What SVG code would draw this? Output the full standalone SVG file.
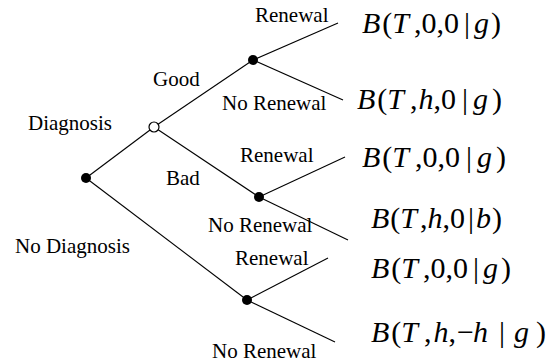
<svg xmlns="http://www.w3.org/2000/svg" width="553" height="363" viewBox="0 0 553 363">
<style>
.lbl{font-family:"Liberation Serif","Times New Roman",serif;font-size:21px;fill:#000}
.f{font-family:"Liberation Serif","Times New Roman",serif;font-size:30px;fill:#000}
.i{font-style:italic}
.e{stroke:#000;stroke-width:1.1;fill:none}
.n{fill:#000}
.o{fill:#fff;stroke:#000;stroke-width:1.2}
</style>
<rect width="553" height="363" fill="#fff"/>
<g id="connectors">
<line class="e" x1="86" y1="178" x2="154" y2="127"/>
<line class="e" x1="86" y1="178" x2="247" y2="300"/>
<line class="e" x1="154" y1="127" x2="253" y2="60"/>
<line class="e" x1="154" y1="127" x2="259" y2="197"/>
<line class="e" x1="253" y1="60" x2="338" y2="23"/>
<line class="e" x1="253" y1="60" x2="343" y2="100"/>
<line class="e" x1="259" y1="197" x2="345" y2="157"/>
<line class="e" x1="259" y1="197" x2="348" y2="240"/>
<line class="e" x1="247" y1="300" x2="328" y2="258"/>
<line class="e" x1="247" y1="300" x2="335" y2="342"/>
</g>
<g id="root"><circle class="n" cx="86" cy="178" r="5"/></g>
<g id="diagnosis"><circle class="o" cx="154" cy="127" r="5"/></g>
<g id="good"><circle class="n" cx="253" cy="60" r="5"/></g>
<g id="bad"><circle class="n" cx="259" cy="197" r="5"/></g>
<g id="nodiag"><circle class="n" cx="247" cy="300" r="5"/></g>
<g id="labels">
<text class="lbl" x="255" y="22">Renewal</text>
<text class="lbl" x="153" y="86">Good</text>
<text class="lbl" x="222" y="110">No Renewal</text>
<text class="lbl" x="28" y="130">Diagnosis</text>
<text class="lbl" x="240" y="162">Renewal</text>
<text class="lbl" x="166" y="185">Bad</text>
<text class="lbl" x="208" y="232">No Renewal</text>
<text class="lbl" x="235" y="265">Renewal</text>
<text class="lbl" x="15" y="253">No Diagnosis</text>
<text class="lbl" x="212" y="358">No Renewal</text>
</g>
<g id="outcomes">
<text class="f" x="362" y="33" font-size="29"><tspan class="i">B</tspan><tspan dx="2">(</tspan><tspan class="i">T</tspan><tspan dx="5">,0,0</tspan><tspan dx="5">|</tspan><tspan class="i" dx="4">g</tspan><tspan dx="2">)</tspan></text>
<text class="f" x="357" y="109" font-size="31"><tspan class="i">B</tspan><tspan dx="2">(</tspan><tspan class="i">T</tspan><tspan dx="6">,</tspan><tspan class="i" dx="1">h</tspan><tspan>,0</tspan><tspan dx="6">|</tspan><tspan class="i" dx="5">g</tspan><tspan dx="4">)</tspan></text>
<text class="f" x="362" y="167"><tspan class="i">B</tspan><tspan dx="2">(</tspan><tspan class="i">T</tspan><tspan dx="6">,0,0</tspan><tspan dx="6">|</tspan><tspan class="i" dx="5">g</tspan><tspan dx="4">)</tspan></text>
<text class="f" x="371" y="228" font-size="27"><tspan class="i">B</tspan><tspan dx="1">(</tspan><tspan class="i">T</tspan><tspan dx="3">,</tspan><tspan class="i">h</tspan><tspan>,0</tspan><tspan dx="3">|</tspan><tspan class="i" dx="2">b</tspan><tspan dx="1">)</tspan></text>
<text class="f" x="371" y="278"><tspan class="i">B</tspan><tspan dx="2">(</tspan><tspan class="i">T</tspan><tspan dx="5">,0,0</tspan><tspan dx="5">|</tspan><tspan class="i" dx="4">g</tspan><tspan dx="3">)</tspan></text>
<text class="f" x="371" y="342"><tspan class="i">B</tspan><tspan dx="2">(</tspan><tspan class="i">T</tspan><tspan dx="6">,</tspan><tspan class="i" dx="2">h</tspan><tspan>,</tspan><tspan dx="1">−</tspan><tspan class="i" dx="-1">h</tspan><tspan dx="11">|</tspan><tspan class="i" dx="9">g</tspan><tspan dx="7">)</tspan></text>
</g>
</svg>
